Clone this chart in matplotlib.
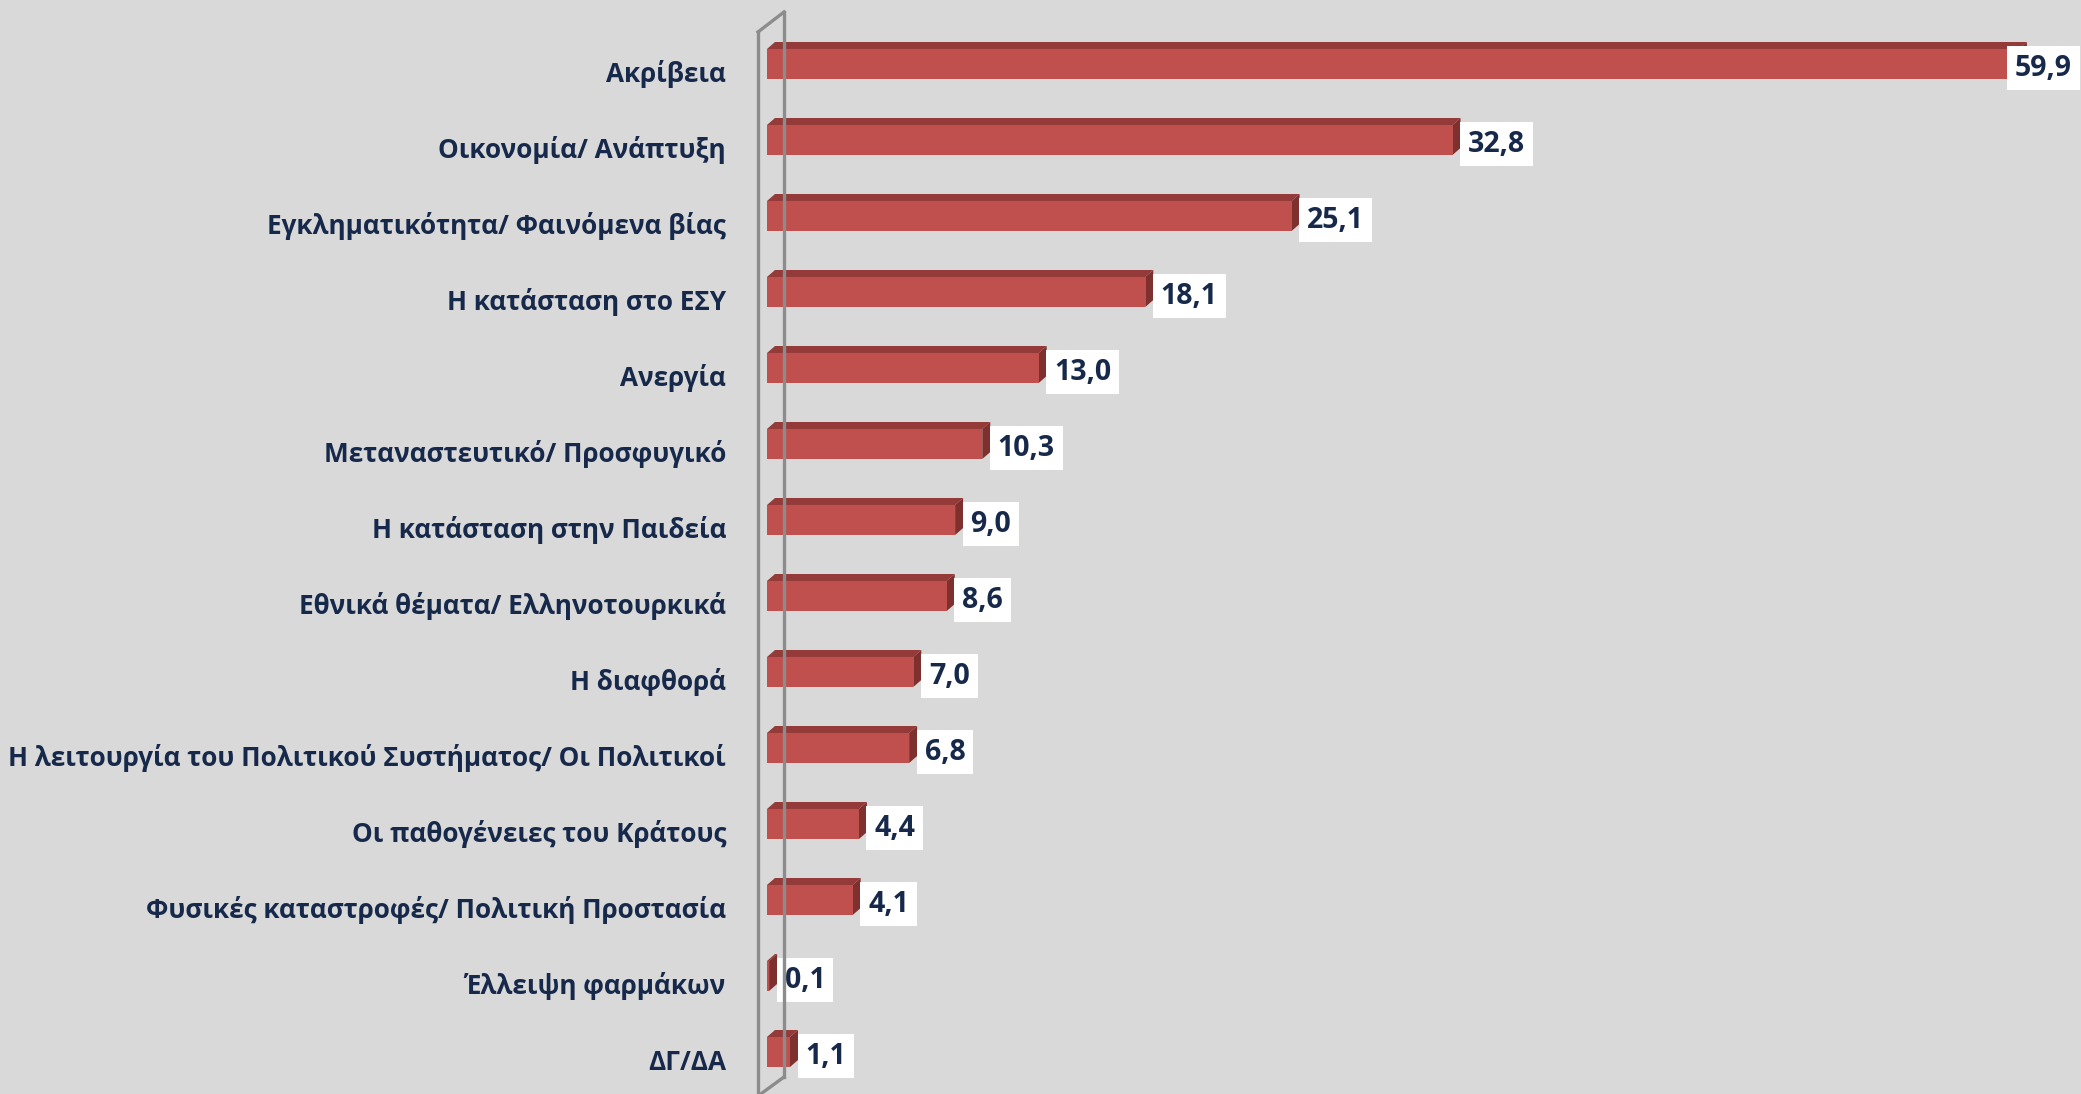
import matplotlib
matplotlib.use("Agg")
import matplotlib.pyplot as plt
from matplotlib.patches import Polygon
from matplotlib.lines import Line2D
from matplotlib.transforms import ScaledTranslation
import numpy as np

categories = [
    "Ακρίβεια",
    "Οικονομία/ Ανάπτυξη",
    "Εγκληματικότητα/ Φαινόμενα βίας",
    "Η κατάσταση στο ΕΣΥ",
    "Ανεργία",
    "Μεταναστευτικό/ Προσφυγικό",
    "Η κατάσταση στην Παιδεία",
    "Εθνικά θέματα/ Ελληνοτουρκικά",
    "Η διαφθορά",
    "Η λειτουργία του Πολιτικού Συστήματος/ Οι Πολιτικοί",
    "Οι παθογένειες του Κράτους",
    "Φυσικές καταστροφές/ Πολιτική Προστασία",
    "Έλλειψη φαρμάκων",
    "ΔΓ/ΔΑ",
]
values = [59.9, 32.8, 25.1, 18.1, 13.0, 10.3, 9.0, 8.6, 7.0, 6.8, 4.4, 4.1, 0.1, 1.1]
value_labels = ["59,9", "32,8", "25,1", "18,1", "13,0", "10,3", "9,0", "8,6",
                "7,0", "6,8", "4,4", "4,1", "0,1", "1,1"]

BG = "#D9D9D9"
FRONT = "#C0504D"
TOP = "#943B39"
SIDE = "#7E302E"
TXT = "#17294B"
WALL = "#8C8C8C"

W, H, DPI = 2081, 1094, 100
fig = plt.figure(figsize=(W / DPI, H / DPI), dpi=DPI, facecolor=BG)

x0_px = 767.0
scale = 20.9           # pixels per unit
pitch = 76.0           # pixels per category
c0 = 64.0              # pixel (from top) of first bar centre
ax = fig.add_axes([x0_px / W, 0, (W - x0_px) / W, 1])
ax.set_facecolor(BG)
ax.set_xlim(0, (W - x0_px) / scale)
ax.set_ylim((H - c0) / pitch, -c0 / pitch)
for s in ax.spines.values():
    s.set_visible(False)
ax.set_xticks([])

n = len(categories)
y = np.arange(n)
bh = 30.0 / pitch
ax.barh(y, values, height=bh, color=FRONT, edgecolor="none", zorder=3)

fig.canvas.draw()
dx, dy = 8.0, 7.0
tr = ax.transData
for i, v in enumerate(values):
    (xl, yt), (xr, yb) = tr.transform([(0, i - bh / 2), (v, i + bh / 2)])
    top = [(xl, yt), (xr, yt), (xr + dx, yt + dy), (xl + dx, yt + dy)]
    side = [(xr, yt), (xr + dx, yt + dy), (xr + dx, yb + dy), (xr, yb)]
    ax.add_patch(Polygon(top, closed=True, transform=None, facecolor=TOP,
                         edgecolor="none", zorder=2))
    ax.add_patch(Polygon(side, closed=True, transform=None, facecolor=SIDE,
                         edgecolor="none", zorder=2))

# wall (back wall lines)
fx = tr.transform((0, 0))[0] - 9
bx = fx + 26
top_front = H - 32
top_back = H - 12
bot_back = H - 1077
bot_front = H - 1096
wall_kw = dict(color=WALL, lw=2.4, transform=None, zorder=1)
fig.add_artist(Line2D([fx, fx], [bot_front - 5, top_front], **wall_kw))
fig.add_artist(Line2D([fx, bx], [top_front, top_back], **wall_kw))
fig.add_artist(Line2D([bx, bx], [top_back, bot_back], **wall_kw))
fig.add_artist(Line2D([bx, fx], [bot_back, bot_front], **wall_kw))

# category labels
ax.set_yticks(y)
ax.set_yticklabels(categories, fontsize=18.8, fontweight="bold", color=TXT,
                   family=["Open Sans", "DejaVu Sans"])
ax.tick_params(axis="y", length=0, pad=29.5)
off = ScaledTranslation(0, -7 / 100, fig.dpi_scale_trans)
for lab in ax.get_yticklabels():
    lab.set_transform(lab.get_transform() + off)

# value labels
anns = []
for i, (v, t) in enumerate(zip(values, value_labels)):
    a = ax.annotate(t, xy=(v, i), xytext=(15.5, -4), textcoords="offset pixels",
                    ha="left", va="center", fontsize=20.5, fontweight="bold",
                    color=TXT, family=["Open Sans", "DejaVu Sans"], zorder=5,
                    annotation_clip=False,
                    bbox=dict(boxstyle="square,pad=0.28", facecolor="white",
                              edgecolor="none"))
    anns.append(a)

fig.canvas.draw()
r = fig.canvas.get_renderer()
for a in anns:
    ext = a.get_bbox_patch().get_window_extent(r)
    if ext.x1 > W - 1:
        a.set_position((15.5 - (ext.x1 - (W - 1)), -4))

fig.savefig("out.png", dpi=DPI, facecolor=BG)
